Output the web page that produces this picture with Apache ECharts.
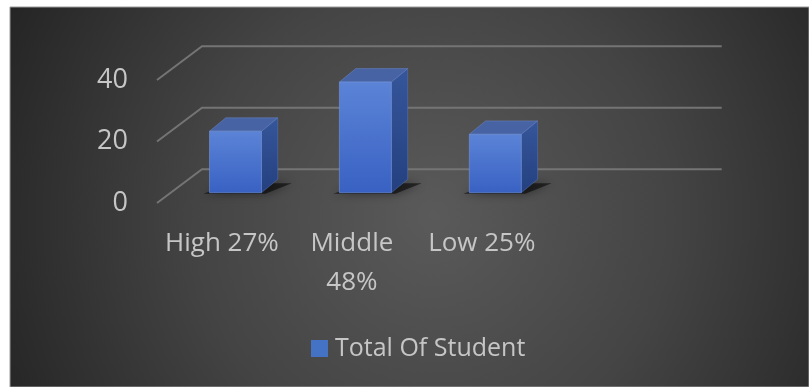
<!DOCTYPE html>
<html>
<head>
<meta charset="utf-8">
<script src="https://cdn.jsdelivr.net/npm/echarts@6/dist/echarts.min.js"></script>
<style>
html,body{margin:0;padding:0;background:#ffffff;}
#chart{width:809px;height:387px;}
</style>
</head>
<body>
<div id="chart"></div>
<script>
// ---- data ----
const categories = ['High 27%', 'Middle\n48%', 'Low 25%', ''];
const studentTotals = [20, 36, 19];
const seriesName = 'Total Of Student';
const yTicks = [0, 20, 40];

// ---- layout / style constants ----
const DX = 45, DY = -33.7;       // depth of the floor / back wall
const FX = 13.5, FY = -10.3;     // offset of bar front face into the depth
const BDX = 16.3, BDY = -13.4;   // bar depth
const TEXT = '#c6c6c6';
const FONT = 'Open Sans';

const chart = echarts.init(document.getElementById('chart'), null, {renderer: 'canvas'});

function gridRender(params, api) {
  const cs = params.coordSys;
  const y = api.coord([0, api.value(1)])[1];
  return {
    type: 'polyline',
    shape: {points: [[cs.x, y], [cs.x + DX, y + DY], [cs.x + cs.width + DX, y + DY]]},
    style: {stroke: '#747474', lineWidth: 2, fill: null}
  };
}

function barRender(params, api) {
  const i = api.value(0), v = api.value(1);
  const base = api.coord([i, 0]);
  const top = api.coord([i, v]);
  const bw = api.size([1, 0])[0] * 0.4;
  const x0 = base[0] - bw / 2 + FX, x1 = x0 + bw;
  const yb = base[1] + FY, yt = top[1] + FY;
  return {
    type: 'group',
    children: [
      {
        type: 'polygon',
        shape: {points: [[x0 - 6, yb + 1], [x1 + 4, yb + 1], [x1 + BDX + 14, yb + BDY + 4], [x0 + BDX + 6, yb + BDY + 4]]},
        style: {fill: 'rgba(0,0,0,0.55)', shadowBlur: 10, shadowColor: 'rgba(0,0,0,0.8)'}
      },
      {
        type: 'polygon',
        shape: {points: [[x1, yt], [x1 + BDX, yt + BDY], [x1 + BDX, yb + BDY], [x1, yb]]},
        style: {
          fill: {type: 'linear', x: 0, y: 0, x2: 0, y2: 1, colorStops: [
            {offset: 0, color: '#36569b'}, {offset: 1, color: '#24407f'}]},
          stroke: 'rgba(90,120,190,0.6)', lineWidth: 0.8
        }
      },
      {
        type: 'polygon',
        shape: {points: [[x0, yt], [x1, yt], [x1 + BDX, yt + BDY], [x0 + BDX, yt + BDY]]},
        style: {fill: '#4863a3', stroke: 'rgba(110,140,205,0.6)', lineWidth: 0.8}
      },
      {
        type: 'rect',
        shape: {x: x0, y: yt, width: bw, height: yb - yt},
        style: {
          fill: {type: 'linear', x: 0, y: 0, x2: 0, y2: 1, colorStops: [
            {offset: 0, color: '#5b84d7'}, {offset: 1, color: '#3961c3'}]},
          stroke: 'rgba(120,150,220,0.7)', lineWidth: 0.8
        }
      }
    ]
  };
}

const option = {
  backgroundColor: '#ffffff',
  animation: false,
  graphic: {
    elements: [{
      type: 'rect', z: -100, silent: true,
      shape: {x: 10, y: 7, width: 799, height: 380},
      style: {
        fill: {type: 'radial', x: 0.53, y: 0.55, r: 1.25, colorStops: [
          {offset: 0, color: '#5a5a5a'}, {offset: 0.5, color: '#444444'}, {offset: 1, color: '#242424'}]},
        stroke: '#9a9a9a', lineWidth: 1
      }
    }]
  },
  grid: {left: 157, right: 132.3, top: 80, bottom: 184, containLabel: false},
  xAxis: {
    type: 'category',
    data: categories,
    axisLine: {show: false},
    axisTick: {show: false},
    splitLine: {show: false},
    axisLabel: {
      color: TEXT, fontFamily: FONT, fontSize: 26, lineHeight: 39,
      margin: 21, interval: 0
    }
  },
  yAxis: {
    type: 'value',
    min: 0, max: 40, interval: 20,
    axisLine: {show: false},
    axisTick: {show: false},
    splitLine: {show: false},
    axisLabel: {color: TEXT, fontFamily: FONT, fontSize: 27, margin: 29, padding: [8, 0, 0, 0]}
  },
  legend: {
    data: [{name: seriesName, icon: 'rect'}],
    left: 311, top: 336, padding: 0,
    itemWidth: 17, itemHeight: 17,
    textStyle: {color: TEXT, fontFamily: FONT, fontSize: 25, padding: [0, 0, 0, 2]}
  },
  series: [
    {
      name: 'grid',
      type: 'custom',
      silent: true,
      z: 1,
      renderItem: gridRender,
      data: yTicks.map(v => [0, v]),
      encode: {x: 0, y: 1}
    },
    {
      name: seriesName,
      type: 'custom',
      z: 3,
      itemStyle: {color: '#4472c4'},
      renderItem: barRender,
      data: studentTotals.map((v, i) => [i, v]),
      encode: {x: 0, y: 1}
    }
  ]
};
chart.setOption(option);
</script>
</body>
</html>
